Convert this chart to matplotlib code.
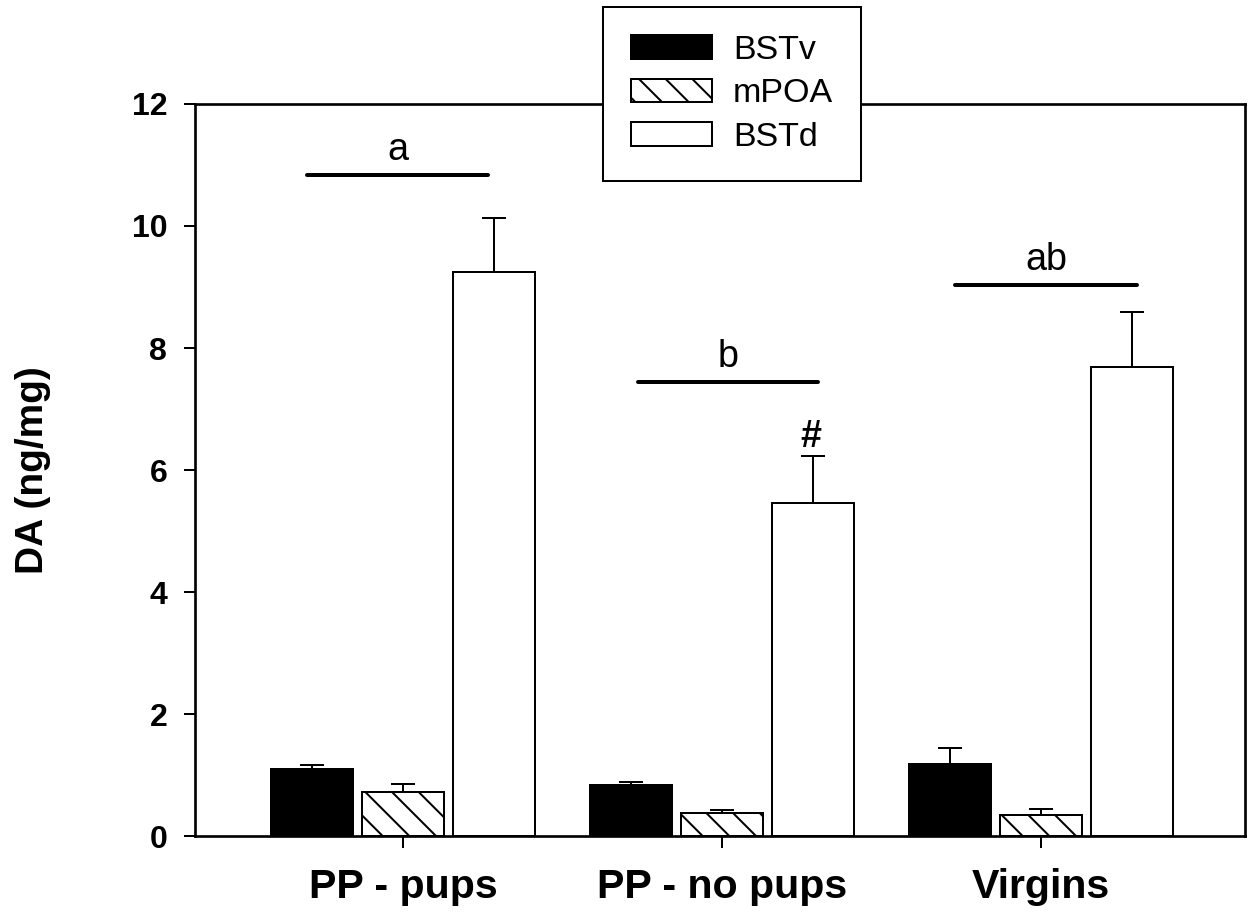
import numpy as np
import matplotlib
matplotlib.use('Agg')
import matplotlib.pyplot as plt

# Data
groups = ['PP - pups', 'PP - no pups', 'Virgins']
regions = ['BSTv', 'mPOA', 'BSTd']
bstv = [1.10, 0.84, 1.18]
bstv_err = [0.07, 0.04, 0.27]
mpoa = [0.72, 0.38, 0.34]
mpoa_err = [0.13, 0.05, 0.10]
bstd = [9.25, 5.46, 7.69]
bstd_err = [0.88, 0.77, 0.90]

# significance bars: letter, x start, x end, y level
sig_letters = ['a', 'b', 'ab']
sig_x0 = [-0.30, 0.735, 1.73]
sig_x1 = [0.265, 1.30, 2.30]
sig_y = [10.84, 7.45, 9.04]

plt.rcParams['font.family'] = ['Liberation Sans', 'DejaVu Sans']
plt.rcParams['hatch.linewidth'] = 0.9

fig = plt.figure(figsize=(7.8, 5.70625), dpi=160)
ax = fig.add_axes([0.1563, 0.0843, 0.8413, 0.8018])

x = np.arange(len(groups))
step = 0.285
width = 0.257
values = [bstv, mpoa, bstd]
errors = [bstv_err, mpoa_err, bstd_err]
faces = ['black', 'white', 'white']
hatches = [None, '\\\\', None]

for i in range(3):
    ax.bar(x + (i - 1) * step, values[i], width, color=faces[i], edgecolor='black',
           linewidth=0.9, hatch=hatches[i], label=regions[i], zorder=2)
    ax.errorbar(x + (i - 1) * step, values[i], yerr=[np.zeros(3), errors[i]],
                fmt='none', ecolor='black', elinewidth=0.9, capsize=5.2, capthick=0.9, zorder=1)

# significance lines and letters
for letter, x0, x1, y in zip(sig_letters, sig_x0, sig_x1, sig_y):
    ax.plot([x0, x1], [y, y], color='black', linewidth=1.8, solid_capstyle='round')
    ax.annotate(letter, ((x0 + x1) / 2, y), xytext=(0, 6.5), textcoords='offset points',
                ha='center', va='baseline', fontsize=17)

# '#' over the BSTd bar of PP - no pups
ax.annotate('#', (x[1] + step, bstd[1] + bstd_err[1]), xytext=(-1, 4), textcoords='offset points',
            ha='center', va='baseline', fontsize=17, fontweight='bold')

ax.set_xlim(-0.652, 2.639)
ax.set_ylim(0, 12)
ax.set_xticks(x)
ax.set_xticklabels(groups, fontsize=18.5, fontweight='bold')
ax.set_yticks(np.arange(0, 13, 2))
ax.set_yticklabels([str(v) for v in range(0, 13, 2)], fontsize=14.4, fontweight='bold')
ax.tick_params(axis='y', direction='out', length=5, width=0.9, pad=7.5)
ax.tick_params(axis='x', direction='out', length=5.4, width=0.9, pad=9)
for s in ax.spines.values():
    s.set_linewidth(1.2)

ax.set_ylabel('DA (ng/mg)', fontsize=17.5, fontweight='bold')
ax.yaxis.set_label_coords(-0.137, 0.5)

leg = ax.legend(loc='upper left', bbox_to_anchor=(603 / 1248, 1 - 7 / 913),
                bbox_transform=fig.transFigure, fontsize=15.3, frameon=True,
                fancybox=False, framealpha=1, edgecolor='black',
                handlelength=2.38, handleheight=0.7, handletextpad=0.62,
                labelspacing=0.37, borderpad=0.82, borderaxespad=0)
leg.get_frame().set_linewidth(0.9)
leg.set_zorder(10)

fig.savefig('out.png', dpi=160)
